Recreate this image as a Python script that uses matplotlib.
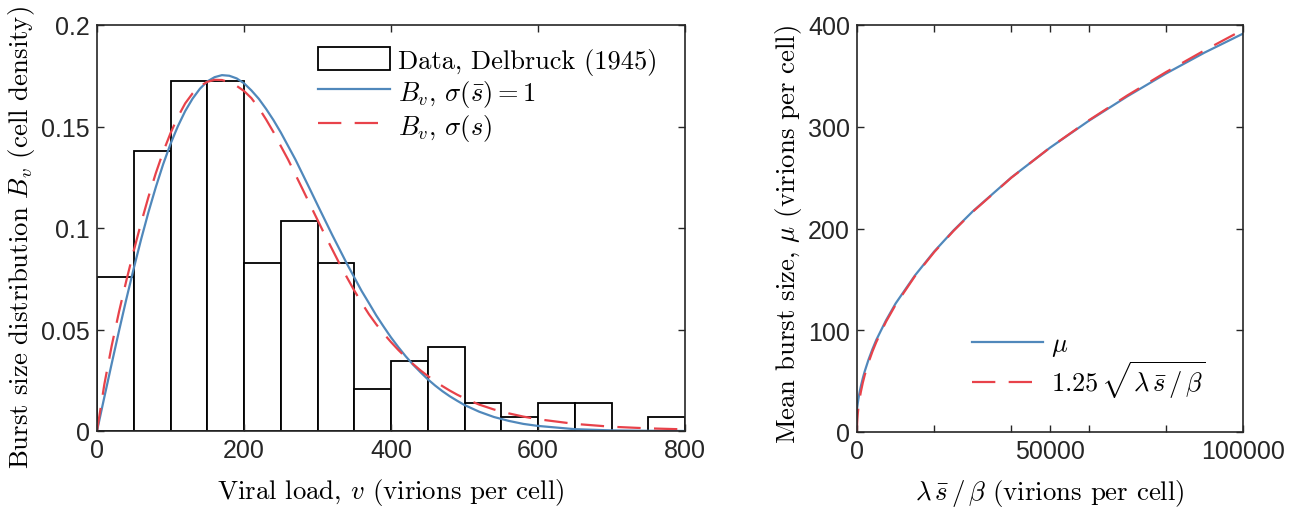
import matplotlib
matplotlib.use("Agg")
import matplotlib.pyplot as plt
from matplotlib.patches import Patch

# histogram (Delbruck 1945), bin width 50
bin_edges = [0, 50, 100, 150, 200, 250, 300, 350, 400, 450, 500, 550, 600, 650, 700, 750, 800]
bin_density = [0.0759, 0.1379, 0.1724, 0.1724, 0.0828, 0.1034, 0.0828, 0.0207,
               0.0345, 0.0414, 0.0138, 0.0069, 0.0138, 0.0138, 0.0, 0.0069]

# fitted curves
v_pts = [0, 10, 20, 30, 40, 50, 60, 70, 80, 90, 100, 110, 120, 130, 140, 150, 160, 170,
         180, 190, 200, 210, 220, 230, 240, 250, 260, 270, 280, 290, 300, 310, 320, 330,
         340, 350, 360, 370, 380, 390, 400, 410, 420, 430, 440, 450, 460, 470, 480, 490,
         500, 520, 540, 560, 580, 600, 650, 700, 750, 800]
bv_blue = [0.0, 0.0167, 0.0332, 0.0494, 0.0651, 0.0801, 0.0944, 0.1078, 0.1201, 0.1314,
           0.1414, 0.1501, 0.1576, 0.1637, 0.1686, 0.1722, 0.1743, 0.1753, 0.1750, 0.1737,
           0.1713, 0.1678, 0.1637, 0.1587, 0.1532, 0.1471, 0.1404, 0.1337, 0.1263, 0.1189,
           0.1114, 0.1040, 0.0966, 0.0895, 0.0824, 0.0757, 0.0690, 0.0630, 0.0569, 0.0514,
           0.0461, 0.0413, 0.0368, 0.0327, 0.0290, 0.0255, 0.0224, 0.0196, 0.0171, 0.0149,
           0.0128, 0.0095, 0.0069, 0.0050, 0.0035, 0.0025, 0.0009, 0.0003, 0.0001, 0.0]
bv_red = [0.0, 0.0230, 0.0420, 0.0588, 0.0742, 0.0888, 0.1025, 0.1153, 0.1270, 0.1375,
          0.1467, 0.1547, 0.1614, 0.1663, 0.1698, 0.1720, 0.1730, 0.1729, 0.1718, 0.1700,
          0.1675, 0.1640, 0.1592, 0.1535, 0.1473, 0.1404, 0.1337, 0.1263, 0.1189, 0.1114,
          0.1040, 0.0966, 0.0895, 0.0824, 0.0757, 0.0692, 0.0632, 0.0575, 0.0525, 0.0480,
          0.0438, 0.0399, 0.0363, 0.0330, 0.0299, 0.0271, 0.0245, 0.0221, 0.0199, 0.0179,
          0.0161, 0.0130, 0.0106, 0.0087, 0.0071, 0.0058, 0.0035, 0.0021, 0.0013, 0.0008]

# mean burst size vs lambda*s/beta
x_mu = [0, 10, 20, 50, 100, 200, 300, 500, 750, 1000, 1500, 2000, 3000, 4000, 5000,
        7500, 10000, 15000, 20000, 25000, 30000, 40000, 50000, 60000, 70000, 80000,
        90000, 100000]
mu_blue = [22, 22.3, 22.7, 23.7, 25.3, 28.3, 30.9, 35.6, 40.5, 45.0, 52.8, 59.6, 71.3,
           81.4, 90.5, 109.6, 126.3, 153.8, 177.4, 198.1, 216.9, 250.2, 279.4, 305.7,
           329.8, 352.2, 372.8, 391.5]
mu_red = [0, 3.95, 5.6, 8.8, 12.5, 17.7, 21.65, 28.0, 34.2, 39.5, 48.4, 55.9, 68.5,
          79.1, 88.4, 108.3, 125.0, 153.1, 176.8, 197.6, 216.5, 250.0, 279.5, 306.2,
          330.7, 353.6, 375.0, 395.3]

blue = '#5088bb'
red = '#e8424a'
spine_c = '#262626'
serif = 'cmr10'
fs_tick = 18
fs_lab = 19.3
fs_leg = 19
plt.rcParams['font.family'] = 'Liberation Sans'
plt.rcParams['mathtext.fontset'] = 'cm'
plt.rcParams['axes.unicode_minus'] = False
dash = (10.5, 6)

fig = plt.figure(figsize=(12.93, 5.10), dpi=100)
ax1 = fig.add_axes([97/1293, 78/510, 588/1293, 406/510])
ax2 = fig.add_axes([857/1293, 77/510, 386/1293, 407/510])

ax1.bar(bin_edges[:-1], bin_density, width=50, align='edge', facecolor='white',
        edgecolor='black', linewidth=1.3)
ax1.plot(v_pts, bv_blue, color=blue, lw=1.6)
ax1.plot(v_pts, bv_red, color=red, lw=1.6, dashes=dash)
ax1.set_xlim(0, 800)
ax1.set_ylim(0, 0.2)
ax1.set_xticks([0, 200, 400, 600, 800])
ax1.set_yticks([0, 0.05, 0.1, 0.15, 0.2])
ax1.set_yticklabels(['0', '0.05', '0.1', '0.15', '0.2'])
ax1.set_xlabel(r'Viral load, $v$ (virions per cell)', fontfamily=serif, fontsize=fs_lab,
               labelpad=10)
ax1.set_ylabel(r'Burst size distribution $B_v$ (cell density)', fontfamily=serif,
               fontsize=fs_lab, labelpad=3)
ax1.yaxis.label.set_y(0.478)

handles = [Patch(facecolor='white', edgecolor='black', linewidth=1.3),
           plt.Line2D([], [], color=blue, lw=1.6),
           plt.Line2D([], [], color=red, lw=1.6, dashes=dash)]
labels = ['Data, Delbruck (1945)', r'$B_v$, $\sigma(\bar{s})=1$', r'$B_v$, $\sigma(s)$']
ax1.legend(handles, labels, loc='upper right', frameon=False, handlelength=2.7,
           handleheight=1.0, handletextpad=0.3, labelspacing=0.12,
           prop={'family': serif, 'size': fs_leg}, bbox_to_anchor=(0.993, 1.005))

ax2.plot(x_mu, mu_blue, color=blue, lw=1.6)
ax2.plot(x_mu, mu_red, color=red, lw=1.6, dashes=dash)
ax2.set_xlim(0, 100000)
ax2.set_ylim(0, 400)
ax2.set_xticks([0, 20000, 40000, 50000, 60000, 80000, 100000])
ax2.set_xticklabels(['0', '', '', '50000', '', '', '100000'])
ax2.set_yticks([0, 100, 200, 300, 400])
ax2.set_xlabel(r'$\lambda\,\bar{s}\,/\,\beta$ (virions per cell)', fontfamily=serif,
               fontsize=fs_lab, labelpad=10)
ax2.set_ylabel(r'Mean burst size, $\mu$ (virions per cell)', fontfamily=serif,
               fontsize=fs_lab, labelpad=3)
ax2.yaxis.label.set_y(0.489)
ax2.legend([r'$\mu$', r'$1.25\,\sqrt{\lambda\,\bar{s}\,/\,\beta}$'], loc='lower right',
           frameon=False, handlelength=2.7, handletextpad=0.3, labelspacing=0.0,
           prop={'family': serif, 'size': fs_leg}, bbox_to_anchor=(0.965, 0.02))

for ax in (ax1, ax2):
    for s in ax.spines.values():
        s.set_color(spine_c)
        s.set_linewidth(1.2)
    ax.tick_params(direction='in', top=True, right=True, length=5, width=1.0,
                   color=spine_c, labelsize=fs_tick, labelcolor='#262626', pad=5)

fig.savefig('out.png', dpi=100)
